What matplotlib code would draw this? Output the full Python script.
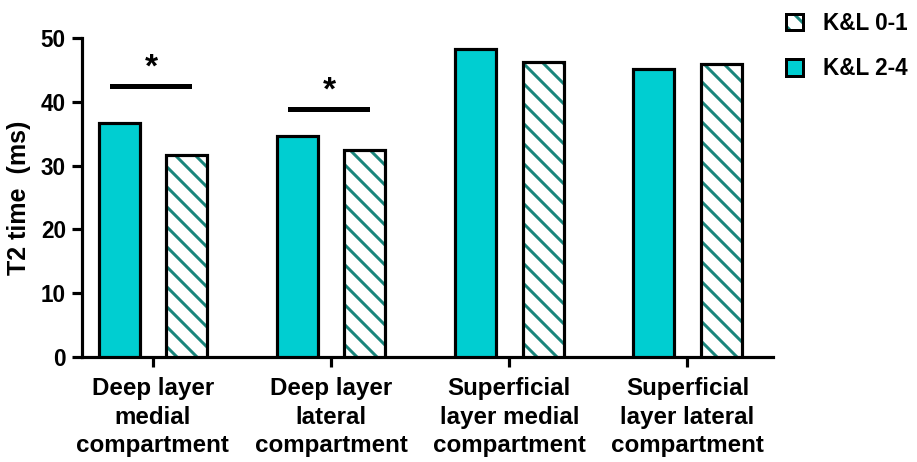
import matplotlib.pyplot as plt
from matplotlib.patches import Patch
import numpy as np

plt.rcParams['font.family'] = ['Liberation Sans', 'DejaVu Sans']
plt.rcParams['hatch.linewidth'] = 1.8

categories = ['Deep layer\nmedial\ncompartment', 'Deep layer\nlateral\ncompartment',
              'Superficial\nlayer medial\ncompartment', 'Superficial\nlayer lateral\ncompartment']
kl_24 = [36.7, 34.6, 48.3, 45.1]
kl_01 = [31.6, 32.5, 46.2, 45.9]
sig_y = [42.5, 38.9]

teal = '#1a857c'
cyan = '#00CED1'

x = np.arange(len(categories))
w = 0.23

# dpi 120 so that the hatch spacing matches the original
fig = plt.figure(figsize=(917 / 120, 462 / 120), dpi=120)
ax = fig.add_axes([0.089, 0.227, 0.754, 0.691])

ax.bar(x - 0.19, kl_24, w, color=cyan, edgecolor='black', linewidth=1.9, zorder=3)
ax.bar(x + 0.19, kl_01, w, color='white', edgecolor=teal, hatch='\\\\',
       linewidth=0, zorder=3)
ax.bar(x + 0.19, kl_01, w, color='none', edgecolor='black', linewidth=1.9, zorder=4)

for i, y in enumerate(sig_y):
    ax.plot([x[i] - 0.23, x[i] + 0.2], [y, y], color='black', lw=3)
    ax.text(x[i] - 0.01, y + 0.4, '*', ha='center', va='bottom', fontsize=20,
            fontweight='bold')

ax.set_xlim(-0.4, 3.48)
ax.set_ylim(0, 50)
ax.set_yticks([0, 10, 20, 30, 40, 50])
ax.set_xticks(x)
ax.set_xticklabels(categories, fontsize=14.5, fontweight='bold', linespacing=1.3)
ax.set_ylabel('T2 time  (ms)', fontsize=15, fontweight='bold', labelpad=6)
for lbl in ax.get_yticklabels():
    lbl.set_fontweight('bold')
ax.tick_params(axis='y', labelsize=13.5, width=1.9, length=6)
ax.tick_params(axis='x', width=1.9, length=6, pad=6)
for s in ['top', 'right']:
    ax.spines[s].set_visible(False)
for s in ['left', 'bottom']:
    ax.spines[s].set_linewidth(1.9)

h_hatch = (Patch(facecolor='white', edgecolor=teal, hatch='\\\\', linewidth=0),
           Patch(facecolor='none', edgecolor='black', linewidth=1.8))
h_solid = Patch(facecolor=cyan, edgecolor='black', linewidth=1.8)
ax.legend([h_hatch, h_solid], ['K&L 0-1', 'K&L 2-4'], loc='upper left',
          bbox_to_anchor=(0.99, 1.145), frameon=False,
          prop={'weight': 'bold', 'size': 13.5},
          handlelength=0.75, handleheight=0.75, handletextpad=0.9,
          labelspacing=1.0)

fig.savefig('out.png', dpi=120)
